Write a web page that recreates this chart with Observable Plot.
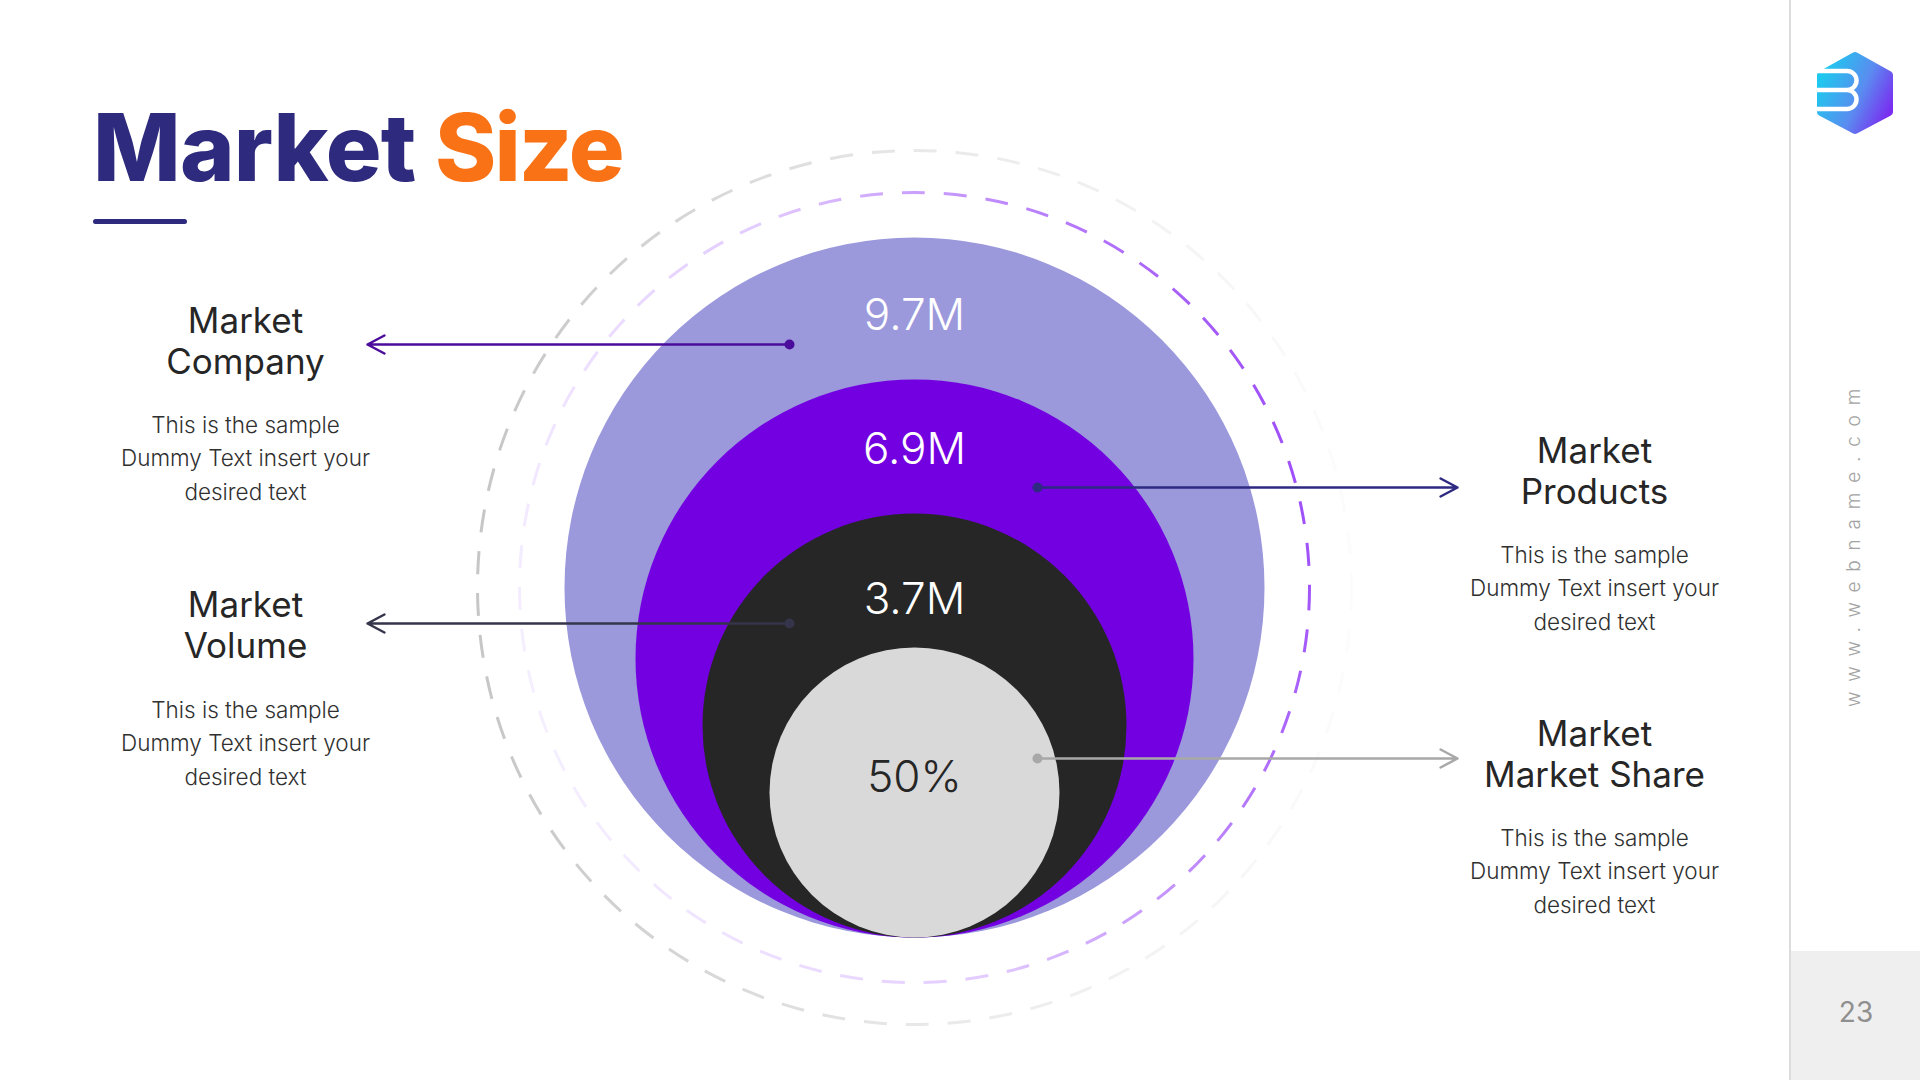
<!DOCTYPE html>
<html>
<head>
<meta charset="utf-8">
<script src="https://cdn.jsdelivr.net/npm/d3@7"></script>
<script src="https://cdn.jsdelivr.net/npm/@observablehq/plot@0.6"></script>
<style>
  html, body { margin: 0; padding: 0; background: #fff; width: 1920px; height: 1080px; overflow: hidden; }
  body { font-family: Inter, "Open Sans", sans-serif; }
  #wrap { position: relative; width: 1920px; height: 1080px; }
  #chart { position: absolute; left: 0; top: 0; }
  #title { position: absolute; left: 93px; top: 101px; margin: 0; font-size: 93px; line-height: 1; font-weight: 800; letter-spacing: -0.8px; white-space: nowrap; }
  #title .a { color: #2e2a7e; }
  #title .b { color: #f97316; letter-spacing: -2px; }
  #rule { position: absolute; left: 93px; top: 219px; width: 94px; height: 5px; border-radius: 3px; background: #2e2a7e; }
  #side { position: absolute; left: 1789px; top: 0; width: 2px; height: 1080px; background: #dcdcdc; }
  #pagebox { position: absolute; left: 1791px; top: 951px; width: 129px; height: 129px; background: #efefef; }
  #page { position: absolute; left: 1856px; top: 1012px; transform: translate(-50%, -50%); font-size: 28px; color: #8f8f8f; font-weight: 400; }
  #web { position: absolute; left: 1853px; top: 543px; transform: translate(-50%, -50%) rotate(-90deg); font-size: 19px; letter-spacing: 9.8px; color: #a3a3a3; font-weight: 300; white-space: nowrap; }
  #logo { position: absolute; left: 1810px; top: 46px; }
</style>
</head>
<body>
<div id="wrap">
  <div id="chart"></div>
  <h1 id="title"><span class="a">Market</span> <span class="b">Size</span></h1>
  <div id="rule"></div>
  <div id="side"></div>
  <div id="pagebox"></div>
  <div id="page">23</div>
  <div id="web">www.webname.com</div>
  <svg id="logo" width="95" height="95" viewBox="1810 46 95 95">
    <defs>
      <linearGradient id="lg" x1="0" y1="0.3" x2="1" y2="0.8">
        <stop offset="0" stop-color="#1ec8ee"/>
        <stop offset="0.55" stop-color="#5a8cf0"/>
        <stop offset="1" stop-color="#7a2cf0"/>
      </linearGradient>
    </defs>
    <path d="M1855 56 L1889 75 L1889 112 L1855 130 L1821 112 L1821 75 Z" fill="url(#lg)" stroke="url(#lg)" stroke-width="8" stroke-linejoin="round"/>
    <path d="M1814 71 H1847 A9.5 9.5 0 0 1 1847 90 H1814 M1847 90 A9.5 9.5 0 0 1 1847 109 H1814" fill="none" stroke="#fff" stroke-width="4.5"/>
  </svg>
</div>
<script>
// ---- data ----
const levels = ["Market Company", "Market Products", "Market Volume", "Market Share"];
const values = ["9.7M", "6.9M", "3.7M", "50%"];
const headings = ["Market\nCompany", "Market\nProducts", "Market\nVolume", "Market\nMarket Share"];
const descriptions = [
  "This is the sample\nDummy Text insert your\ndesired text",
  "This is the sample\nDummy Text insert your\ndesired text",
  "This is the sample\nDummy Text insert your\ndesired text",
  "This is the sample\nDummy Text insert your\ndesired text"
];

// ---- layout & style (pixel geometry of the infographic) ----
const layout = {
  cx: 914, bottom: 937,
  radii: [350, 279, 212, 145],
  labelY: [315, 449, 599, 777],
  fills: ["#9b98dc", "#7300e0", "#262626", "#d9d9d9"],
  labelColors: ["#ffffff", "#ffffff", "#ffffff", "#262626"],
  arrowColors: ["#4b0c9c", "#2e2a82", "#34354a", "#a8a8a8"],
  dotX: [789, 1037, 789, 1037],
  arrowY: [344, 487, 623, 758],
  endX: [367, 1457, 367, 1457],
  textX: [245, 1594, 245, 1594],
  headY: [340, 470, 624, 753],
  bodyY: [455, 585, 740, 868],
  ringCy: 587,
  rings: [{r: 437, stroke: "url(#ringGray)"}, {r: 395, stroke: "url(#ringPurple)"}]
};

const table = levels.map((level, i) => ({
  level,
  value: values[i],
  heading: headings[i],
  desc: descriptions[i],
  cx: layout.cx,
  cy: layout.bottom - layout.radii[i],
  r: layout.radii[i],
  fill: layout.fills[i],
  labelY: layout.labelY[i],
  labelColor: layout.labelColors[i],
  arrowColor: layout.arrowColors[i],
  dotX: layout.dotX[i],
  arrowY: layout.arrowY[i],
  endX: layout.endX[i],
  textX: layout.textX[i],
  headY: layout.headY[i],
  bodyY: layout.bodyY[i]
}));
const rings = layout.rings.map(d => ({...d, cx: layout.cx, cy: layout.ringCy}));

const font = "Inter, 'Open Sans', sans-serif";

const chart = Plot.plot({
  width: 1920,
  height: 1080,
  margin: 0,
  x: {domain: [0, 1920], range: [0, 1920], axis: null},
  y: {domain: [0, 1080], range: [0, 1080], axis: null},
  r: {type: "identity"},
  color: {type: "identity"},
  style: {background: "transparent", fontFamily: font, overflow: "visible"},
  marks: [
    Plot.dot(rings, {x: "cx", y: "cy", r: "r", stroke: "stroke", fill: "none", strokeWidth: 3, strokeDasharray: "23 19"}),
    Plot.dot(table, {x: "cx", y: "cy", r: "r", fill: "fill", stroke: null}),
    Plot.arrow(table, {x1: "dotX", y1: "arrowY", x2: "endX", y2: "arrowY", stroke: "arrowColor", strokeWidth: 2.5, headLength: 11.5, headAngle: 56}),
    Plot.dot(table, {x: "dotX", y: "arrowY", r: 5, fill: "arrowColor", stroke: null}),
    Plot.text(table, {x: "cx", y: "labelY", text: "value", fill: "labelColor", fontSize: 44, fontWeight: 300, fontFamily: font}),
    Plot.text(table, {x: "textX", y: "headY", text: "heading", fill: "#262626", fontSize: 35, lineHeight: 1.15, fontWeight: 400, fontFamily: font, letterSpacing: "1.3px"}),
    Plot.text(table, {x: "textX", y: "bodyY", text: "desc", fill: "#303030", fontSize: 22.5, lineHeight: 1.5, fontWeight: 300, fontFamily: font, letterSpacing: "0.35px"})
  ]
});

// gradient definitions for the dashed rings
const defs = d3.select(chart).insert("defs", ":first-child");
const gp = defs.append("linearGradient").attr("id", "ringPurple")
  .attr("x1", 0).attr("y1", 0.65).attr("x2", 1).attr("y2", 0.35);
gp.append("stop").attr("offset", 0).attr("stop-color", "#f6f0ff");
gp.append("stop").attr("offset", 0.45).attr("stop-color", "#e2cbff");
gp.append("stop").attr("offset", 1).attr("stop-color", "#9d4cf8");
const gg = defs.append("linearGradient").attr("id", "ringGray")
  .attr("x1", 0).attr("y1", 0.5).attr("x2", 1).attr("y2", 0.5);
gg.append("stop").attr("offset", 0).attr("stop-color", "#c6c6c6");
gg.append("stop").attr("offset", 0.5).attr("stop-color", "#e8e8e8");
gg.append("stop").attr("offset", 1).attr("stop-color", "#fcfcfc");

document.getElementById("chart").appendChild(chart);
</script>
</body>
</html>
